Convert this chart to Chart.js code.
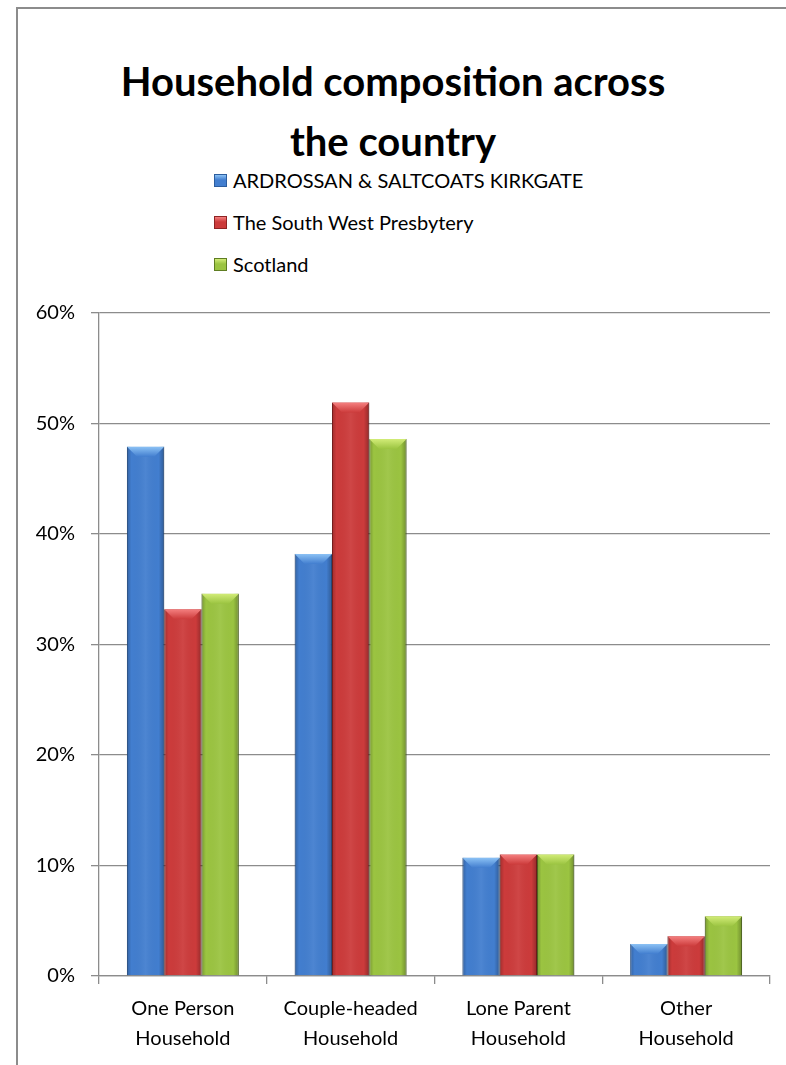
<!DOCTYPE html>
<html>
<head>
<meta charset="utf-8">
<script src="https://cdn.jsdelivr.net/npm/chart.js@4.4.0/dist/chart.umd.min.js"></script>
<style>
body { margin: 0; background: #fff; font-family: Lato, sans-serif; }
#wrap { position: relative; width: 786px; height: 1065px; overflow: hidden; }
#frame { position: absolute; left: 16px; top: 7px; right: 0; bottom: 0; border-left: 2px solid #8c8c8c; border-top: 2px solid #8c8c8c; }
#title { position: absolute; left: 0; right: 0; top: 51px; text-align: center; font-weight: bold; font-size: 40px; line-height: 60px; color: #000; }
#legend { position: absolute; left: 214px; top: 159px; font-size: 20px; color: #000; }
.item { height: 42px; display: flex; align-items: center; }
.box { width: 11px; height: 11px; margin-right: 6px; }
canvas { position: absolute; left: 0; top: 0; }
</style>
</head>
<body>
<div id="wrap">
  <div id="frame"></div>
  <div id="title">Household composition across<br>the country</div>
  <div id="legend"></div>
  <canvas id="js--chart" width="786" height="1065"></canvas>
</div>
<script>
// data
const categories = [["One Person", "Household"], ["Couple-headed", "Household"], ["Lone Parent", "Household"], ["Other", "Household"]];
const seriesNames = ["ARDROSSAN & SALTCOATS KIRKGATE", "The South West Presbytery", "Scotland"];
const ardrossan = [47.9, 38.2, 10.7, 2.9];
const southWest = [33.2, 51.9, 11.0, 3.6];
const scotland = [34.6, 48.6, 11.0, 5.4];
const yTicks = [0, 10, 20, 30, 40, 50, 60];

// kleuren: vlak, rand, bovenkant
const fills = ['#427ecf', '#cc3b3b', '#9bc441'];
const edges = ['#2c5d9e', '#8e2424', '#5f7d22'];
const tops = ['#8cc2f5', '#f58080', '#d2ec78'];

const datasets = [ardrossan, southWest, scotland].map(function (vals, i) {
    return {
        label: seriesNames[i],
        data: vals,
        backgroundColor: fills[i],
        borderColor: edges[i],
        borderWidth: 1,
        topColor: tops[i]
    };
});

// legenda als html, onder elkaar
const legend = document.getElementById('legend');
datasets.forEach(function (ds) {
    const row = document.createElement('div');
    row.className = 'item';
    row.innerHTML = '<span class="box" style="background:linear-gradient(' + ds.topColor + ',' + ds.backgroundColor + ' 45%);border:1px solid ' + ds.borderColor + '"></span>' + ds.label;
    legend.appendChild(row);
});

// 3D randje op elke staaf
const bevel = {
    id: 'bevel',
    afterDatasetsDraw(chart) {
        const ctx = chart.ctx;
        chart.data.datasets.forEach(function (ds, i) {
            chart.getDatasetMeta(i).data.forEach(function (bar) {
                const l = bar.x - bar.width / 2, r = bar.x + bar.width / 2;
                const t = bar.y, b = bar.base;
                const d = Math.min(10, (b - t) / 2);
                ctx.save();
                const g = ctx.createLinearGradient(l, 0, r, 0);
                g.addColorStop(0, 'rgba(0,0,0,0.22)');
                g.addColorStop(0.12, 'rgba(0,0,0,0)');
                g.addColorStop(0.5, 'rgba(255,255,255,0.06)');
                g.addColorStop(0.85, 'rgba(0,0,0,0)');
                g.addColorStop(1, 'rgba(0,0,0,0.28)');
                ctx.fillStyle = g;
                ctx.fillRect(l, t, r - l, b - t);
                ctx.beginPath();
                ctx.moveTo(l, t);
                ctx.lineTo(r, t);
                ctx.lineTo(r - d, t + d);
                ctx.lineTo(l + d, t + d);
                ctx.closePath();
                const tg = ctx.createLinearGradient(0, t, 0, t + d);
                tg.addColorStop(0, ds.topColor);
                tg.addColorStop(1, ds.backgroundColor);
                ctx.fillStyle = tg;
                ctx.fill();
                ctx.restore();
            });
        });
    }
};

const config = {
    type: 'bar',
    data: { labels: categories, datasets: datasets },
    options: {
        responsive: false,
        animation: false,
        layout: { padding: { top: 313, right: 16, left: 0, bottom: 0 } },
        plugins: { legend: { display: false }, tooltip: { enabled: false } },
        datasets: { bar: { categoryPercentage: 0.667, barPercentage: 1 } },
        scales: {
            x: {
                afterFit: function (s) { s.height = 89; },
                grid: { drawOnChartArea: false, tickLength: 8, color: '#8c8c8c', lineWidth: 1.3, offset: true },
                border: { color: '#8c8c8c', width: 1.3 },
                ticks: { color: '#000', padding: 10, font: { family: 'Lato', size: 20, lineHeight: 1.5 } }
            },
            y: {
                min: 0,
                max: 60,
                afterFit: function (s) { s.width = 99; },
                afterBuildTicks: function (s) { s.ticks = yTicks.map(function (v) { return { value: v }; }); },
                grid: { tickLength: 8, color: '#8c8c8c', lineWidth: 1.3 },
                border: { color: '#8c8c8c', width: 1.3 },
                ticks: {
                    color: '#000',
                    padding: 16,
                    font: { family: 'Lato', size: 20 },
                    callback: function (v) { return v + '%'; }
                }
            }
        }
    },
    plugins: [bevel]
};

new Chart(document.getElementById('js--chart'), config);
</script>
</body>
</html>
